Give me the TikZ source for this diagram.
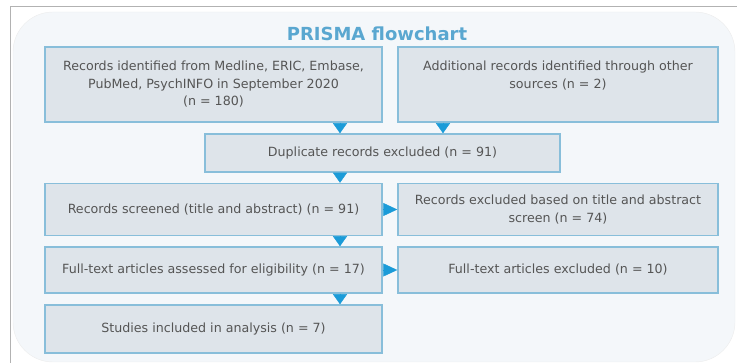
\documentclass[tikz,border=0pt]{standalone}
\usepackage{fontspec}
\setmainfont{DejaVu Sans}
\usepackage{tikz}
\usetikzlibrary{arrows.meta}
\definecolor{boxfill}{HTML}{DEE4EA}
\definecolor{boxline}{HTML}{88BEDA}
\definecolor{arrblue}{HTML}{1B9BD8}
\definecolor{titleblue}{HTML}{5AA7D0}
\definecolor{panelfill}{HTML}{F4F7FA}
\definecolor{txtgray}{HTML}{555555}

\begin{document}
\begin{tikzpicture}[x = 1pt, y = -1pt,
                    box/.style = {rectangle, draw = boxline, fill = boxfill, line width = 1.5pt,
                                  text = txtgray, align = center, inner sep = 2pt,
                                  font = \fontsize{12.65}{17.5}\selectfont},
                    arr/.style = {draw = arrblue, line width = 0.4pt,
                                  -{Triangle[width = 14pt, length = 10pt]}, arrblue},
                    harr/.style = {arr, -{Triangle[width = 13pt, length = 14pt]}},
                    title/.style = {text = titleblue, font = \fontsize{18}{20}\selectfont\bfseries}]
  \useasboundingbox (0, 0) rectangle (737, 363);
  \draw [gray!60, line width = 0.6pt] (10, 363) -- (10, 6) -- (737, 6);
  \draw [gray!15, fill = panelfill, rounded corners = 40pt] (13, 12) rectangle (735, 362);
  \node [title] (ttl) at (377, 34) {PRISMA flowchart};
  \node [box, minimum width = 337pt, minimum height = 75pt] (a) at (213.5, 84.5)
        {Records identified from Medline, ERIC, Embase,\\ PubMed, PsychINFO in September 2020\\ (n = 180)};
  \node [box, minimum width = 320pt, minimum height = 75pt, text depth = 20pt] (b) at (558, 84.5)
        {Additional records identified through other\\ sources (n = 2)};
  \node [box, minimum width = 355pt, minimum height = 38pt] (c) at (382.5, 153)
        {Duplicate records excluded (n = 91)};
  \node [box, minimum width = 337pt, minimum height = 52pt] (d) at (213.5, 209.5)
        {Records screened (title and abstract) (n = 91)};
  \node [box, minimum width = 320pt, minimum height = 52pt] (e) at (558, 209.5)
        {Records excluded based on title and abstract\\ screen (n = 74)};
  \node [box, minimum width = 337pt, minimum height = 46pt] (f) at (213.5, 270)
        {Full-text articles assessed for eligibility (n = 17)};
  \node [box, minimum width = 320pt, minimum height = 46pt] (g) at (558, 270)
        {Full-text articles excluded (n = 10)};
  \node [box, minimum width = 337pt, minimum height = 48pt] (h) at (213.5, 329)
        {Studies included in analysis (n = 7)};
  \draw [arr] ([xshift = 126.5pt]a.south) -- ([xshift = 126.5pt]a.south |- c.north);
  \draw [arr] ([xshift = -115pt]b.south) -- ([xshift = -115pt]b.south |- c.north);
  \draw [arr] ([xshift = -42.5pt]c.south) -- ([xshift = -42.5pt]c.south |- d.north);
  \draw [harr] (d.east) -- (e.west);
  \draw [arr] ([xshift = 126.5pt]d.south) -- ([xshift = 126.5pt]d.south |- f.north);
  \draw [harr] (f.east) -- (g.west);
  \draw [arr] ([xshift = 126.5pt]f.south) -- ([xshift = 126.5pt]f.south |- h.north);
\end{tikzpicture}
\end{document}
